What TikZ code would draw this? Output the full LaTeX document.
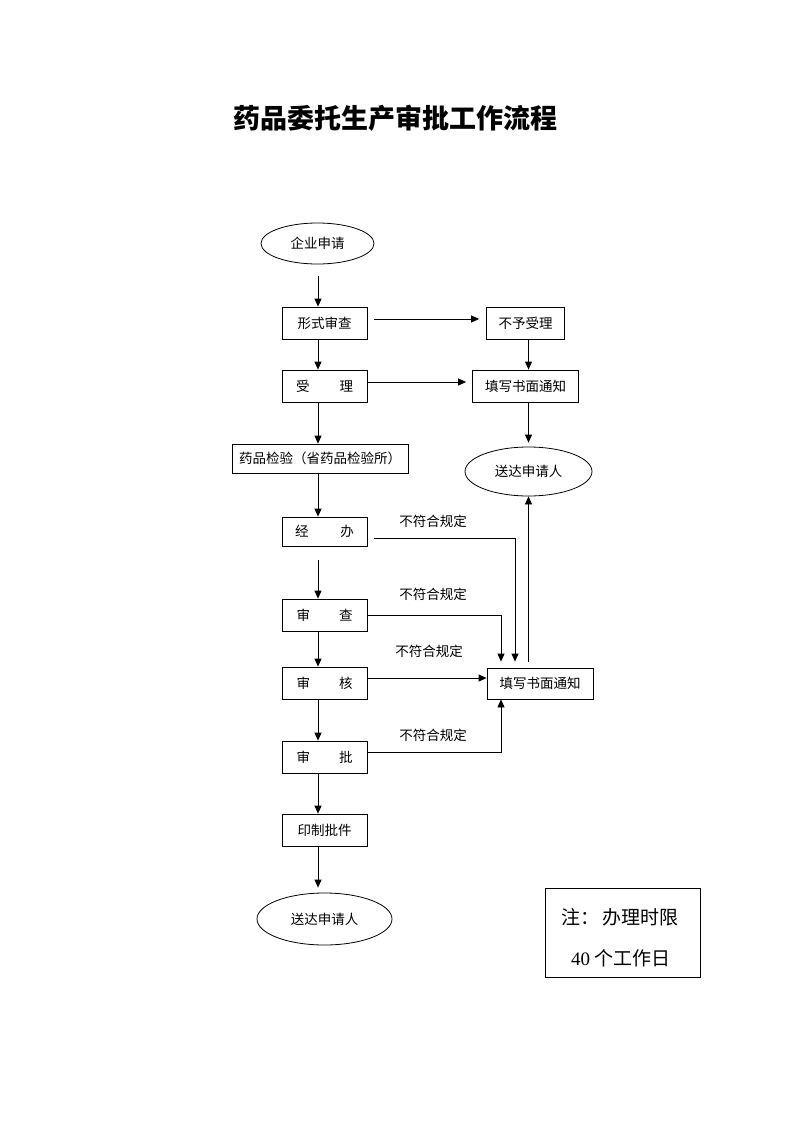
\documentclass[tikz,border=0pt]{standalone}
\usepackage{fontspec}
\setmainfont{Liberation Serif}
\newfontfamily\cjk{Noto Sans CJK SC}
\usetikzlibrary{shapes.geometric,arrows.meta}
\begin{document}
\begin{tikzpicture}[x=1pt,y=-1pt,
  box/.style={draw, line width=0.8pt, minimum width=85pt, minimum height=32pt, inner sep=0pt, font=\cjk\fontsize{13.5}{15}\selectfont},
  oval/.style={draw, ellipse, line width=0.8pt, inner sep=0pt, font=\cjk\fontsize{13.5}{15}\selectfont},
  arr/.style={-{Triangle[length=8pt,width=7pt]}, line width=0.8pt},
  lbl/.style={inner sep=0pt, font=\cjk\fontsize{13.5}{15}\selectfont},
  ttl/.style={inner sep=0pt, font=\cjk\bfseries\fontsize{27}{30}\selectfont},
  notebox/.style={draw, line width=0.8pt, minimum width=155pt, minimum height=89pt, inner sep=0pt},
  notetxt/.style={inner sep=0pt, font=\fontsize{19}{22}\selectfont}]
\useasboundingbox (0,0) rectangle (800,1132);
\fill[white] (0,0) rectangle (800,1132);

\node[ttl] (title) at (395,118) {药品委托生产审批工作流程};

\node[oval, minimum width=113pt, minimum height=41pt] (e1) at (317.5,243.5) {企业申请};
\node[box] (b1) at (324.5,323) {形式审查};
\node[box, minimum width=78pt] (r1) at (525.5,323) {不予受理};
\node[box] (b2) at (324.5,386) {受\hspace{30pt}理};
\node[box, minimum width=106pt] (r2) at (525.5,386) {填写书面通知};
\node[box, minimum width=176pt, minimum height=29pt] (b3) at (320,458.5) {药品检验（省药品检验所）};
\node[oval, minimum width=127pt, minimum height=49pt] (e2) at (528.5,471.5) {送达申请人};
\node[box, minimum height=29pt] (b4) at (324.5,531.5) {经\hspace{32pt}办};
\node[box] (b5) at (324.5,615) {审\hspace{29pt}查};
\node[box] (b6) at (324.5,683) {审\hspace{29pt}核};
\node[box, minimum width=106pt, minimum height=31pt] (r3) at (540,683.5) {填写书面通知};
\node[box] (b7) at (324.5,757) {审\hspace{29pt}批};
\node[box] (b8) at (324.5,830) {印制批件};
\node[oval, minimum width=135pt, minimum height=52pt] (e3) at (324.5,919) {送达申请人};
\node[notebox] (note) at (622.5,932.5) {};
\node[notetxt] (n1) at (620,917) {\cjk 注：\hspace{3pt}办理时限};
\node[notetxt] (n2) at (621,958) {40 {\cjk 个工作日}};

\node[lbl] (l1) at (433,521) {不符合规定};
\node[lbl] (l2) at (433,594) {不符合规定};
\node[lbl] (l3) at (429,651) {不符合规定};
\node[lbl] (l4) at (433,735) {不符合规定};

\coordinate (cx) at (318,0);
\draw[arr, shorten <=12pt] (e1.south -| cx) -- (b1.north -| cx);
\draw[arr] (b1.south -| cx) -- (b2.north -| cx);
\draw[arr] (b2.south -| cx) -- (b3.north -| cx);
\draw[arr] (b3.south -| cx) -- (b4.north -| cx);
\draw[arr, shorten <=14pt] (b4.south -| cx) -- (b5.north -| cx);
\draw[arr] (b5.south -| cx) -- (b6.north -| cx);
\draw[arr] (b6.south -| cx) -- (b7.north -| cx);
\draw[arr] (b7.south -| cx) -- (b8.north -| cx);
\draw[arr, shorten >=5pt] (b8.south -| cx) -- (e3.north -| cx);

\draw[arr, shorten <=7pt, shorten >=7pt] ([yshift=4pt]b1.east) -- ([yshift=4pt]b1.east -| r1.west);
\draw[arr, shorten >=6pt] ([yshift=4pt]b2.east) -- ([yshift=4pt]b2.east -| r2.west);
\draw[arr] (r1.south -| e2.north) -- (r2.north -| e2.north);
\draw[arr, shorten >=4pt] (r2.south -| e2.north) -- (e2.north);

\draw[arr, shorten <=7pt, shorten >=6pt] ([yshift=-6.5pt]b4.east) -| ([xshift=-25pt]r3.north);
\draw[arr, shorten >=6pt] (b5.east) -| ([xshift=-39pt]r3.north);
\draw[arr] ([yshift=5pt]b6.east) -- ([yshift=5pt]b6.east -| r3.west);
\draw[arr] ([yshift=5pt]b7.east) -| ([xshift=-39pt]r3.south);
\draw[arr, shorten <=6pt] (r3.north -| e2.south) -- (e2.south);
\end{tikzpicture}
\end{document}
